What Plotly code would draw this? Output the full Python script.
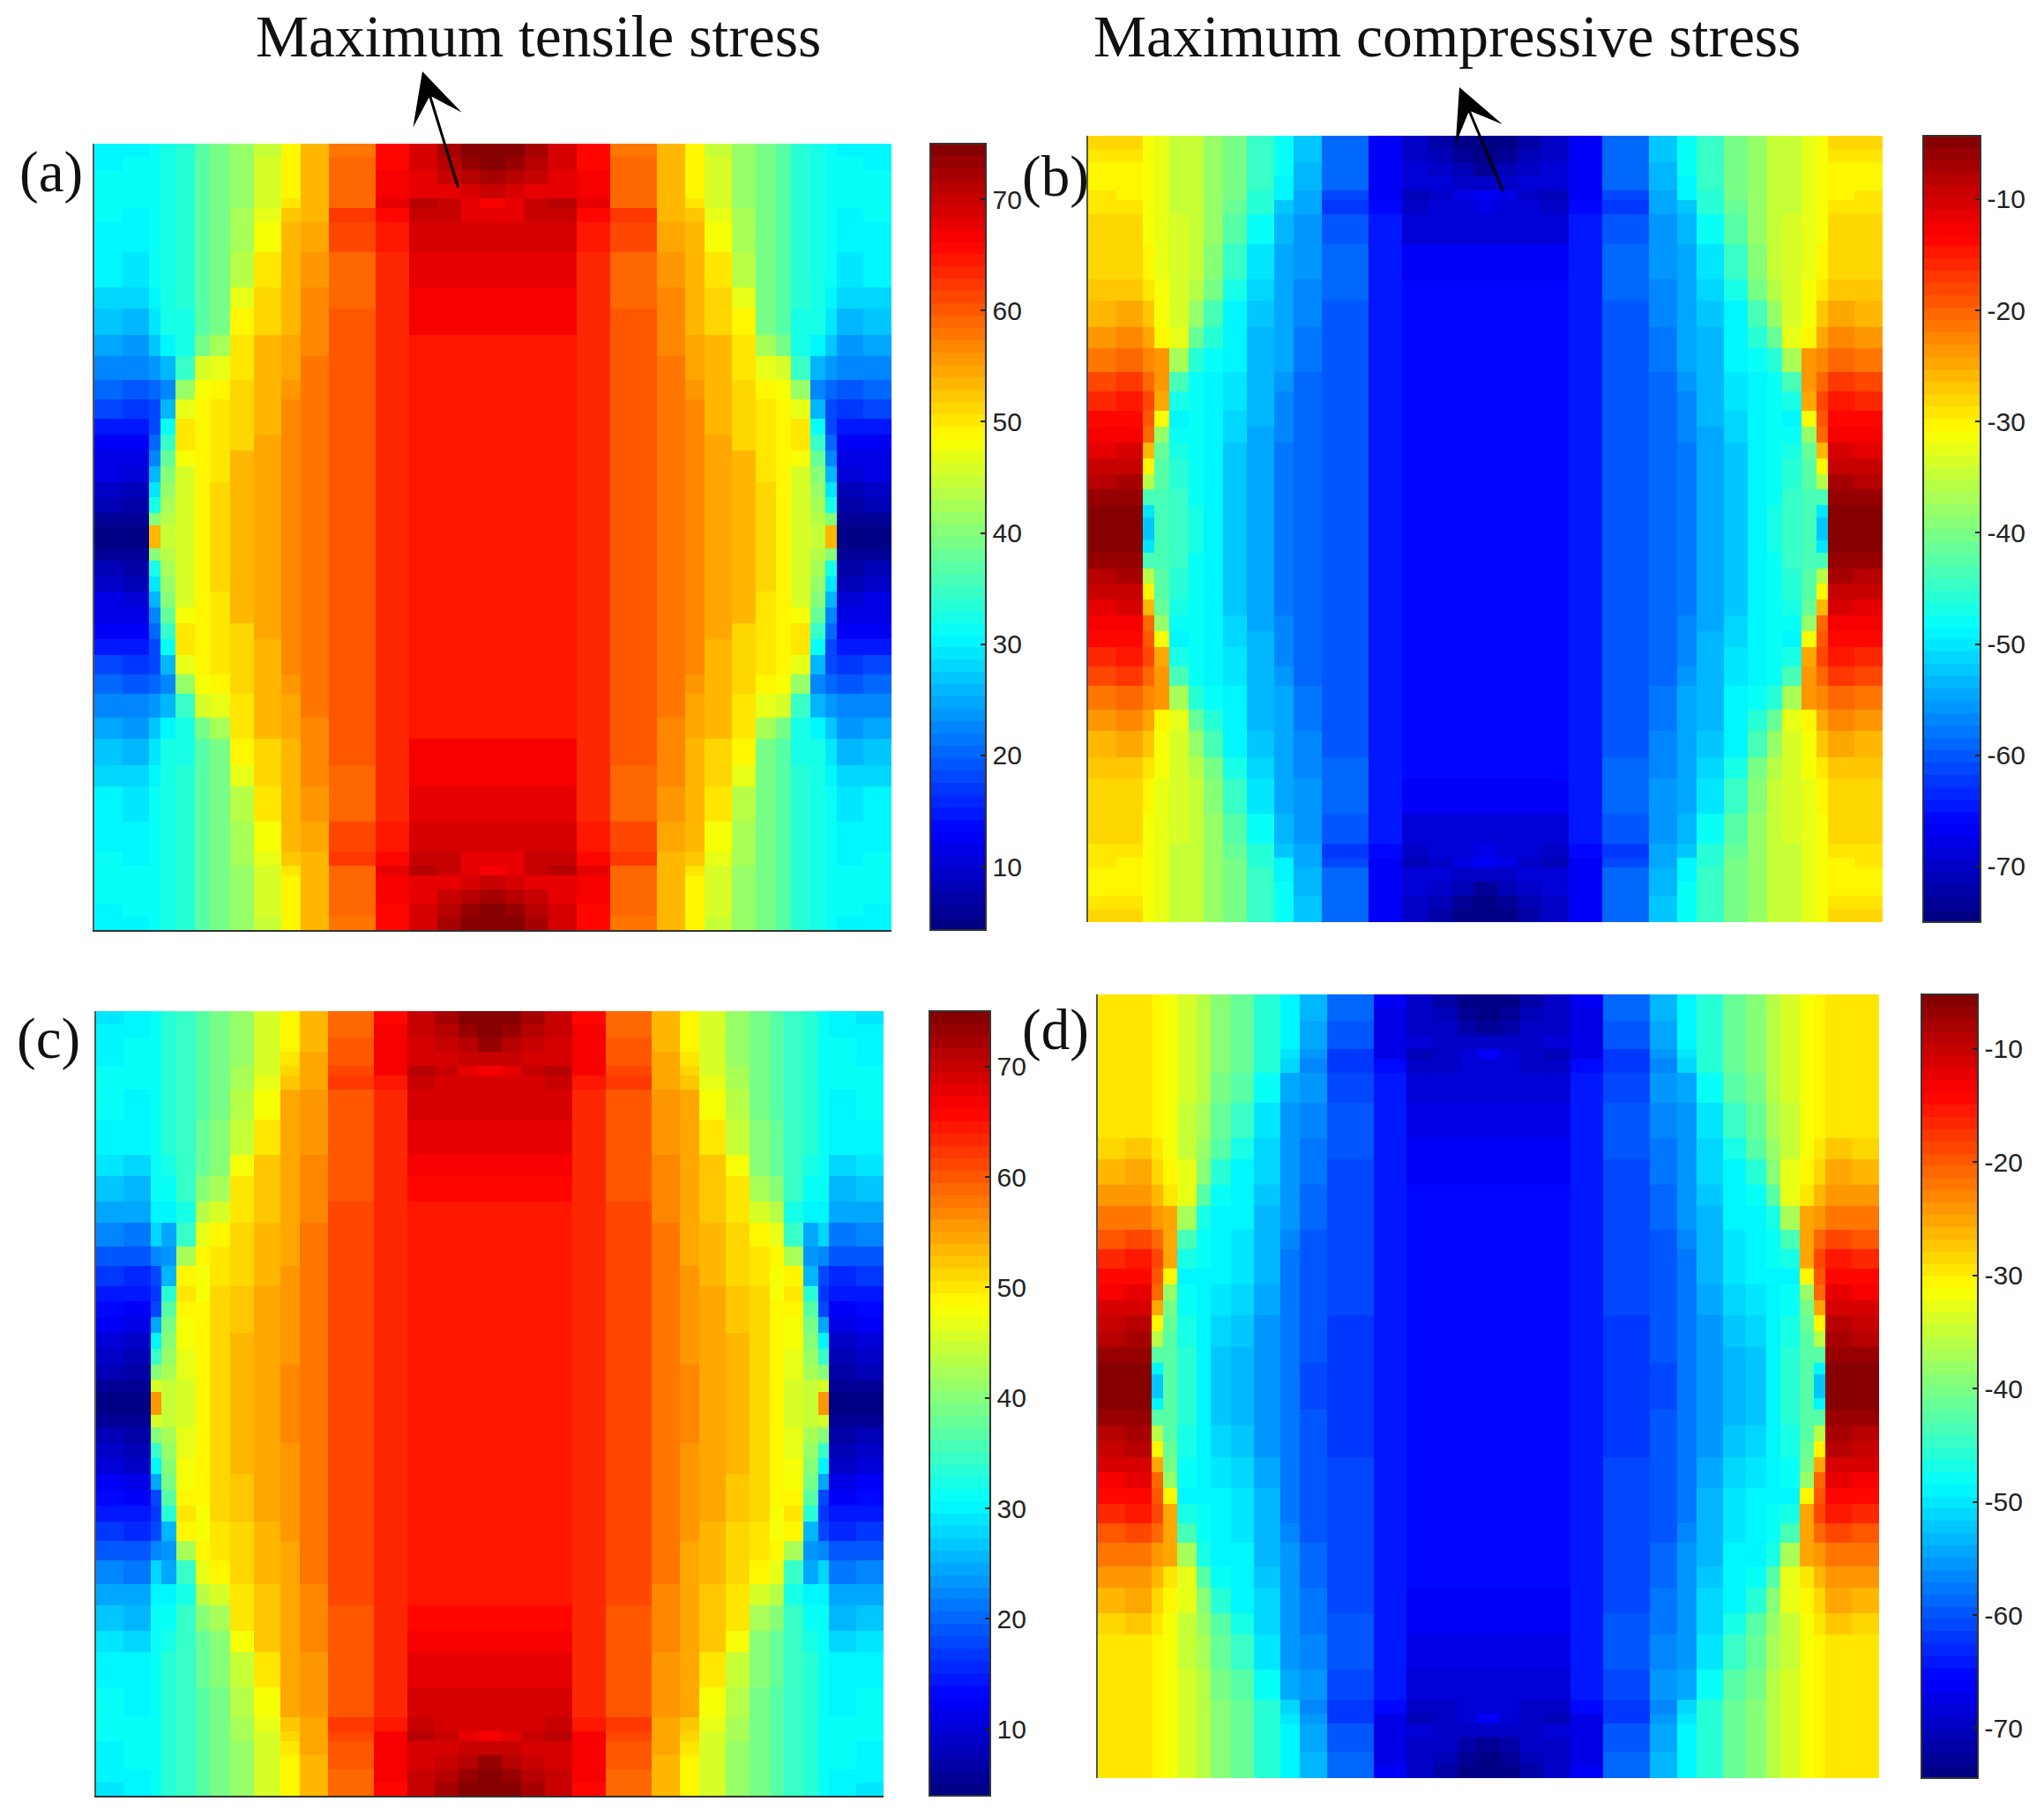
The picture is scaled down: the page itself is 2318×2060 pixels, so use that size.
import numpy as np
import plotly.graph_objects as go

# cell edges of the mesh, left/top half only (percent of panel), the panels are symmetric
x_edges_half = [0, 3.5, 6.9, 8.3, 10.2, 12.6, 14.5, 17, 20, 23.4, 25.9, 29.4, 35.3, 39.5, 43, 46, 48.5, 50]
y_edges_half = [0, 1.7, 3.4, 5.2, 7, 8.2, 10, 13.8, 18.3, 21, 24.3, 27, 30, 32.5, 35, 37, 39, 41, 43, 45, 47, 48.5, 50]

# stress, one line per column from the left edge to the centre,
# each line goes from the top edge down to the middle row
stress_a = [
    [30.5,30.5,31,31,31,31,30.5,30,28.5,27,25,23,20.5,18,15,13,12,11,9.5,8,6.5,5],
    [30.5,31,31,31,31,30.5,30,29,27.5,26,24,22,19.5,17,14.5,12.5,11,10,8.5,7,5.5,4.8],
    [31.5,31.5,31.5,31.5,31.5,31.5,31,31,30.5,29.5,27,24,20,18,18,20,22,26,29,33,40,54],
    [32,32,32,32,32,32,32,32,32,32,30,26,23,26,31,35,37.5,40,41,42,43.5,44.5],
    [34,34,34,34,34,34,34,33.5,33.5,33,32.5,35,41,47,50,50,48,46,46,46,46,46],
    [37,37,37,37,37,37,37,36.5,36.5,37,39,46,48,48.5,49,49,49,49,48.5,48.5,48.5,48.5],
    [39,39,39,39,39,39,39,39,39,39.5,42,47,49.5,50,50.5,50.5,50.5,50.5,51,51,51,51],
    [41,41,41,41.5,41.5,42,42.5,43.5,46.5,49,50,50.5,51,51,51,51.5,53,53,53,53,53,53],
    [45,45.5,46,46,46,46.5,48,50.5,51.5,51.5,53,53,54,54,54,54.5,55,55,55,55,55,55],
    [48.5,48.5,48.5,49,50,52,53.5,54,54,54,55,55,55.5,57,57,57,57,57,57,57,57,57],
    [53,53,53,53,53,54,55,56,56.5,57,57,57.5,57.5,57.5,58,58,58,58,58,58,58,58],
    [58,58.5,59,59.5,59.5,62,61,59.5,59.5,60,60.5,60.5,60.5,60.5,60.5,60.5,60.5,60.5,60.5,60.5,60.5,60.5],
    [65.5,66,66.5,67,67.5,66,64,63,63,63,63,63,63,63,63,63,63,63,63,63,63,63],
    [69,68.5,68,67.5,71,69.5,69,67.5,66.2,66.2,65,65,65,65,65,65,65,65,65,65,65,65],
    [72,71,69.5,68,70,69.5,69,67.5,66.2,66.2,65,65,65,65,65,65,65,65,65,65,65,65],
    [74,73,71,68.5,67.5,68,69,67.5,66.2,66.2,65,65,65,65,65,65,65,65,65,65,65,65],
    [75,74.5,72.5,70,66.5,67.5,69,67.5,66.2,66.2,65,65,65,65,65,65,65,65,65,65,65,65],
]
stress_b = [
    [-28.5,-29,-30,-30,-29.5,-29.5,-28.5,-28,-27,-25.5,-24,-21.5,-18.5,-16,-14,-13,-11,-9.5,-8,-6.5,-5.2,-4.5],
    [-28.5,-29.5,-30.5,-30.5,-30,-29.5,-28.5,-27.5,-26.5,-25,-23,-20.5,-17.5,-15,-13.5,-12.5,-10.5,-9,-7.5,-6,-5,-4.5],
    [-31,-31,-31,-31,-31,-31,-31,-30.5,-29,-27,-25,-23,-20.5,-18.5,-19,-20.5,-26,-30.5,-36,-43,-50,-52.5],
    [-32.5,-32.5,-32.5,-32.5,-32.5,-32.5,-32.5,-32,-31,-31,-30,-24,-23.5,-25,-31,-38,-41,-42,-42.5,-43,-43.5,-43.5],
    [-34.5,-34.5,-34.5,-34.5,-34.5,-34.5,-34,-34,-33.5,-33.5,-33,-37,-43,-47,-48.5,-48,-47,-46,-45.5,-45,-44.5,-44.5],
    [-35,-35,-35,-35,-35,-35,-35,-35,-36,-37.5,-41,-46,-47.5,-47.5,-48,-48,-48,-48,-48,-47.5,-47,-47],
    [-37.5,-37.5,-37.5,-37.5,-38,-38,-38.5,-39.5,-40.5,-43,-46,-48,-48.5,-48.5,-49,-49,-49.5,-49.5,-49.5,-49.5,-49.5,-49.5],
    [-40,-40,-40,-40,-40.5,-41,-42,-44.5,-47,-48.5,-49.5,-49.5,-50.5,-50.5,-51,-51.5,-52,-52,-52,-52,-52,-52],
    [-45,-45,-45,-45,-45.5,-46,-48,-50,-51.5,-52,-53,-53,-54,-54,-54,-54.5,-55,-55,-55,-55,-55,-55],
    [-48,-48,-48,-48.5,-49.5,-52,-54,-54.5,-54.5,-55,-55,-55,-56,-57,-57,-57,-57.5,-57.5,-57.5,-57.5,-57.5,-57.5],
    [-52.5,-52.5,-53,-53.5,-54.5,-55,-55.5,-56,-56.5,-57,-57.5,-58,-58.5,-58.5,-58.5,-58.5,-58.5,-58.5,-58.5,-58.5,-58.5,-58.5],
    [-59,-59,-59,-59.5,-61,-62,-60.5,-59.5,-59.5,-60,-60.5,-60.5,-60.5,-60.5,-60.5,-60.5,-60.5,-60.5,-60.5,-60.5,-60.5,-60.5],
    [-66.5,-67,-67,-67,-67,-65.5,-64.5,-64,-64,-64,-64,-64,-64,-64,-64,-64,-64,-64,-64,-64,-64,-64],
    [-70,-69.5,-69,-68.5,-71,-69.5,-68.5,-67,-66,-66,-65.5,-65.5,-65.5,-65.5,-65.5,-65.5,-65.5,-65.5,-65.5,-65.5,-65.5,-65.5],
    [-72,-71,-70,-69,-70,-69,-68.5,-67,-66,-66,-65.5,-65.5,-65.5,-65.5,-65.5,-65.5,-65.5,-65.5,-65.5,-65.5,-65.5,-65.5],
    [-74,-73,-71.5,-69.5,-68,-68.5,-68.5,-67,-66,-66,-65.5,-65.5,-65.5,-65.5,-65.5,-65.5,-65.5,-65.5,-65.5,-65.5,-65.5,-65.5],
    [-75,-74.5,-73,-70,-66.5,-68,-68.5,-67,-66,-66,-65.5,-65.5,-65.5,-65.5,-65.5,-65.5,-65.5,-65.5,-65.5,-65.5,-65.5,-65.5],
]
stress_c = [
    [29.5,30,30.5,30.5,31,31,31,30.5,29,27,25,22.5,19.5,17,14.5,13,12,10.5,9,7.5,6,5],
    [30,30.5,31,31,31,31,30.5,30,28,26,24,21.5,18.5,16,14,12.5,11,9.5,8,6.5,5.5,4.5],
    [31,31,31,31,31,31,31,31,31,31,30,27.5,22,18,17,18,25,30,35,40,46,56],
    [33,33,33,33,33,33,33,33,32.5,31.5,30,25,23,26,33,36.5,38.5,40,41,42.5,44,44.5],
    [34.5,34.5,34.5,34.5,34.5,34.5,34.5,34.5,34.5,34,32.5,35,42,48.5,50,49,48,47.5,47,46.5,46,45.5],
    [36.5,36.5,36.5,36.5,36.5,36.5,36.5,37.5,38,40,43,47,48.5,47.5,48,48.5,48.5,48.5,48.5,48.5,48.5,48.5],
    [39,39,39,39,39,39,39,39.5,40.5,42,46,48.5,50,50.5,51,51,51,51,51,51,51,51],
    [41.5,41.5,41.5,41.5,42,42.5,43,44.5,47.5,50,50.5,51,51.5,51.5,52,52,52.5,53,53,53,53,53],
    [45.5,45.5,45.5,45.5,46,46.5,47.5,49.5,52,52.5,52.5,53,53,53.5,54,54.5,54.5,55,55,55,55,55],
    [48.5,48.5,48.5,49.5,51,52,54,54.5,54.5,54.5,55,55,55,56,56,56,56,56,56,57,57,57],
    [53,53,53.5,54,54.5,55,55.5,56,56.5,57,57,57.5,57.5,57.5,58,58,58,58,58,58,58,58],
    [58.5,59,59.5,60,61.5,62,60.5,60,60,60.5,61,61,61,61,61,61,61,61,61,61,61,61],
    [66,66.5,66.5,67,67,65,63.5,63,63,63,63,63,63,63,63,63,63,63,63,63,63,63],
    [70,69.5,69,68.5,71,69.5,68.5,67.5,66.2,66,65,65,65,65,65,65,65,65,65,64,64,64],
    [72.5,71.5,70,69,70,69,68.5,67.5,66.2,66,65,65,65,65,65,65,65,65,64.5,64,64,64],
    [74,73,71.5,69.5,68,69,68.5,67.5,66.2,66,65,65,65,65,65,65,65,65,64,64,64,64],
    [75,74.5,73,70.5,66.5,68.5,68.5,67.5,66.2,66,65,65,65,65,65,65,65,64.5,64,64,64,64],
]
stress_d = [
    [-29.5,-30,-30,-30,-30,-30,-30,-29.5,-28,-26,-24.5,-22.5,-19.5,-16.5,-14.5,-13,-11.5,-10,-8.5,-7,-5.8,-5.2],
    [-29.5,-30,-30,-30,-30,-30,-29.5,-29,-27.5,-25.5,-24,-22,-19,-16,-14,-12.5,-11,-9.5,-8,-6.5,-5.5,-5.2],
    [-31,-31,-31,-31,-31,-31,-31,-31,-30,-28,-26,-24,-20.5,-19,-19.5,-20.5,-25,-30.5,-36.5,-42,-49,-52.5],
    [-32,-32,-32,-32,-32,-32,-32,-32,-32,-31,-30,-25,-25,-25.5,-31,-38,-40.5,-41.5,-42,-42,-42,-42],
    [-33.5,-33.5,-33.5,-33.5,-33.5,-33.5,-34,-34.5,-35,-33,-32.5,-37,-44,-47,-48.5,-48,-47.5,-47,-46.5,-46,-46,-46],
    [-35.5,-35.5,-35.5,-35.5,-35.5,-35.5,-36,-37,-38,-39.5,-43,-46.5,-48,-48,-48.5,-48.5,-48.5,-48.5,-48.5,-48.5,-48.5,-48.5],
    [-39.5,-39.5,-39.5,-39.5,-39.5,-39.5,-40,-41,-43,-45.5,-47.5,-48.5,-49,-49.5,-49.5,-50,-50.5,-51,-51.5,-52,-52,-52],
    [-41,-41,-41,-41,-41,-41,-42,-44.5,-47,-48.5,-49.5,-49.5,-50,-50,-50.5,-51,-51.5,-52,-52.5,-53,-53,-53],
    [-45.5,-45.5,-45.5,-45.5,-46,-46,-48,-50,-51,-51,-52.5,-53,-53.5,-53.5,-53.5,-54,-54.5,-55,-55,-55,-55,-55],
    [-48.5,-48.5,-48.5,-48.5,-50,-51,-54,-55,-55.5,-56,-56,-56,-57,-57.5,-58,-58,-58,-58,-58,-58,-58,-58],
    [-53,-53.5,-54,-54.5,-55.5,-56.5,-56,-57,-57.5,-58,-58.5,-59,-59.5,-59.5,-59.5,-59.5,-59.5,-59.5,-60,-60,-60.5,-60.5],
    [-59,-59,-59.5,-60,-62,-62.5,-61,-60,-60,-60.5,-60.5,-60.5,-60.5,-60.5,-60.5,-60.5,-61,-61.5,-61.5,-62,-62,-62],
    [-66.5,-67,-67,-67.5,-67,-65.5,-64.5,-64,-64,-64,-64,-64,-64,-64,-64,-64,-64,-64,-64,-64,-64,-64],
    [-70,-69.5,-69,-68.5,-71,-69.5,-68.5,-67,-66.5,-66.5,-65.5,-65.5,-65.5,-65.5,-65.5,-65.5,-65.5,-65.5,-65.5,-65.5,-65.5,-65.5],
    [-72,-71,-70,-69,-70,-69,-68.5,-67,-66.5,-66.5,-65.5,-65.5,-65.5,-65.5,-65.5,-65.5,-65.5,-65.5,-65.5,-65.5,-65.5,-65.5],
    [-74,-73,-71.5,-69.5,-68,-68.5,-68.5,-67,-66.5,-66.5,-65.5,-65.5,-65.5,-65.5,-65.5,-65.5,-65.5,-65.5,-65.5,-65.5,-65.5,-65.5],
    [-74.4,-74,-73,-70,-66.5,-68,-68.5,-67,-66.5,-66.5,-65.5,-65.5,-65.5,-65.5,-65.5,-65.5,-65.5,-65.5,-65.5,-65.5,-65.5,-65.5],
]

ticks_tensile = [10, 20, 30, 40, 50, 60, 70]
ticks_compressive = [-70, -60, -50, -40, -30, -20, -10]
labels_tensile = ["10", "20", "30", "40", "50", "60", "70"]
labels_compressive = ["-70", "-60", "-50", "-40", "-30", "-20", "-10"]

W, H = 2318, 2060

# name, z, left/right/top/bottom of the map, left/right of the bar, zmin, zmax, ticks, axis line sides
panels = [
    ("(a)", stress_a, 107, 1011, 163, 1055, 1055, 1118, 4.3, 75, ticks_tensile, labels_tensile, True),
    ("(b)", stress_b, 1234, 2135, 154, 1046, 2181, 2246, -75, -4.3, ticks_compressive, labels_compressive, False),
    ("(c)", stress_c, 109, 1002, 1147, 2037, 1054, 1123, 4, 75, ticks_tensile, labels_tensile, True),
    ("(d)", stress_d, 1245, 2131, 1128, 2017, 2179, 2243, -74.4, -5.2, ticks_compressive, labels_compressive, False),
]
panel_label_pos = {"(a)": (58, 195), "(b)": (1197, 200), "(c)": (55, 1178), "(d)": (1197, 1168)}


def jet_bands(n=64):
    # MATLAB jet with flat bands, not the plotly Jet
    pos = [0, 0.125, 0.375, 0.625, 0.875, 1]
    r = [0, 0, 0, 255, 255, 128]
    g = [0, 0, 255, 255, 0, 0]
    b = [128, 255, 255, 0, 0, 0]
    scale = []
    for i in range(n):
        t = (i + 0.5) / n
        c = "rgb(%d,%d,%d)" % (np.interp(t, pos, r), np.interp(t, pos, g), np.interp(t, pos, b))
        scale.append([i / n, c])
        scale.append([(i + 1) / n, c])
    return scale


def mirror_edges(edges):
    return edges + [100 - e for e in reversed(edges[:-1])]


def full_field(columns):
    q = np.array(columns).T
    top = np.hstack([q, q[:, ::-1]])
    return np.vstack([top, top[::-1]])


x_edges = mirror_edges(x_edges_half)
y_edges = mirror_edges(y_edges_half)
jet = jet_bands()

fig = go.Figure()
for i, (name, columns, x0, x1, y0, y1, bar0, bar1, zmin, zmax, tv, tt, bottom_line) in enumerate(panels):
    n = "" if i == 0 else str(i + 1)
    fig.add_trace(go.Heatmap(
        x=x_edges, y=y_edges, z=full_field(columns),
        xaxis="x" + n, yaxis="y" + n,
        zmin=zmin, zmax=zmax, colorscale=jet,
        colorbar=dict(
            x=bar0 / W, xanchor="left", xpad=0, xref="paper",
            y=1 - (y0 + y1) / 2 / H, yanchor="middle", ypad=0, yref="paper",
            len=(y1 - y0) / H, lenmode="fraction",
            thickness=bar1 - bar0, thicknessmode="pixels",
            outlinecolor="#333333", outlinewidth=2,
            tickmode="array", tickvals=tv, ticktext=tt,
            ticks="inside", ticklen=7, tickwidth=2, tickcolor="#222222",
            tickfont=dict(family="Liberation Sans", size=30, color="#222222"),
        ),
    ))
    fig.update_layout({
        "xaxis" + n: dict(domain=[x0 / W, x1 / W], range=[0, 100], anchor="y" + n, showticklabels=False, ticks="",
                          showgrid=False, zeroline=False, showline=bottom_line, linecolor="#333333", linewidth=2),
        "yaxis" + n: dict(domain=[1 - y1 / H, 1 - y0 / H], range=[100, 0], anchor="x" + n, showticklabels=False, ticks="",
                          showgrid=False, zeroline=False, showline=True, linecolor="#555555", linewidth=2),
    })

notes = []
for label, (px, py) in panel_label_pos.items():
    notes.append(dict(text=label, x=px / W, y=1 - py / H, xref="paper", yref="paper", showarrow=False,
                      xanchor="center", yanchor="middle",
                      font=dict(family="Liberation Serif", size=65, color="#111111")))
notes.append(dict(text="Maximum tensile stress", x=610 / W, y=1 - 41 / H, xref="paper", yref="paper",
                  showarrow=False, xanchor="center", yanchor="middle",
                  font=dict(family="Liberation Serif", size=67.5, color="#111111")))
notes.append(dict(text="Maximum compressive stress", x=1641 / W, y=1 - 41 / H, xref="paper", yref="paper",
                  showarrow=False, xanchor="center", yanchor="middle",
                  font=dict(family="Liberation Serif", size=67.5, color="#111111")))
# arrows pointing at the hot/cold top spot
for tail, tip in [((520, 214), (479, 81)), ((1705, 218), (1655, 99))]:
    notes.append(dict(text="", x=tip[0] / W, y=1 - tip[1] / H, ax=tail[0] - tip[0], ay=tail[1] - tip[1],
                      xref="paper", yref="paper", axref="pixel", ayref="pixel", showarrow=True,
                      arrowhead=3, arrowsize=3.2, arrowwidth=3, arrowcolor="#000000"))

fig.update_layout(
    width=W, height=H,
    margin=dict(l=0, r=0, t=0, b=0, autoexpand=False),
    paper_bgcolor="white", plot_bgcolor="white",
    annotations=notes,
)

fig.write_html("out.html", config={"displayModeBar": False}, post_script="document.body.style.margin='0';")
